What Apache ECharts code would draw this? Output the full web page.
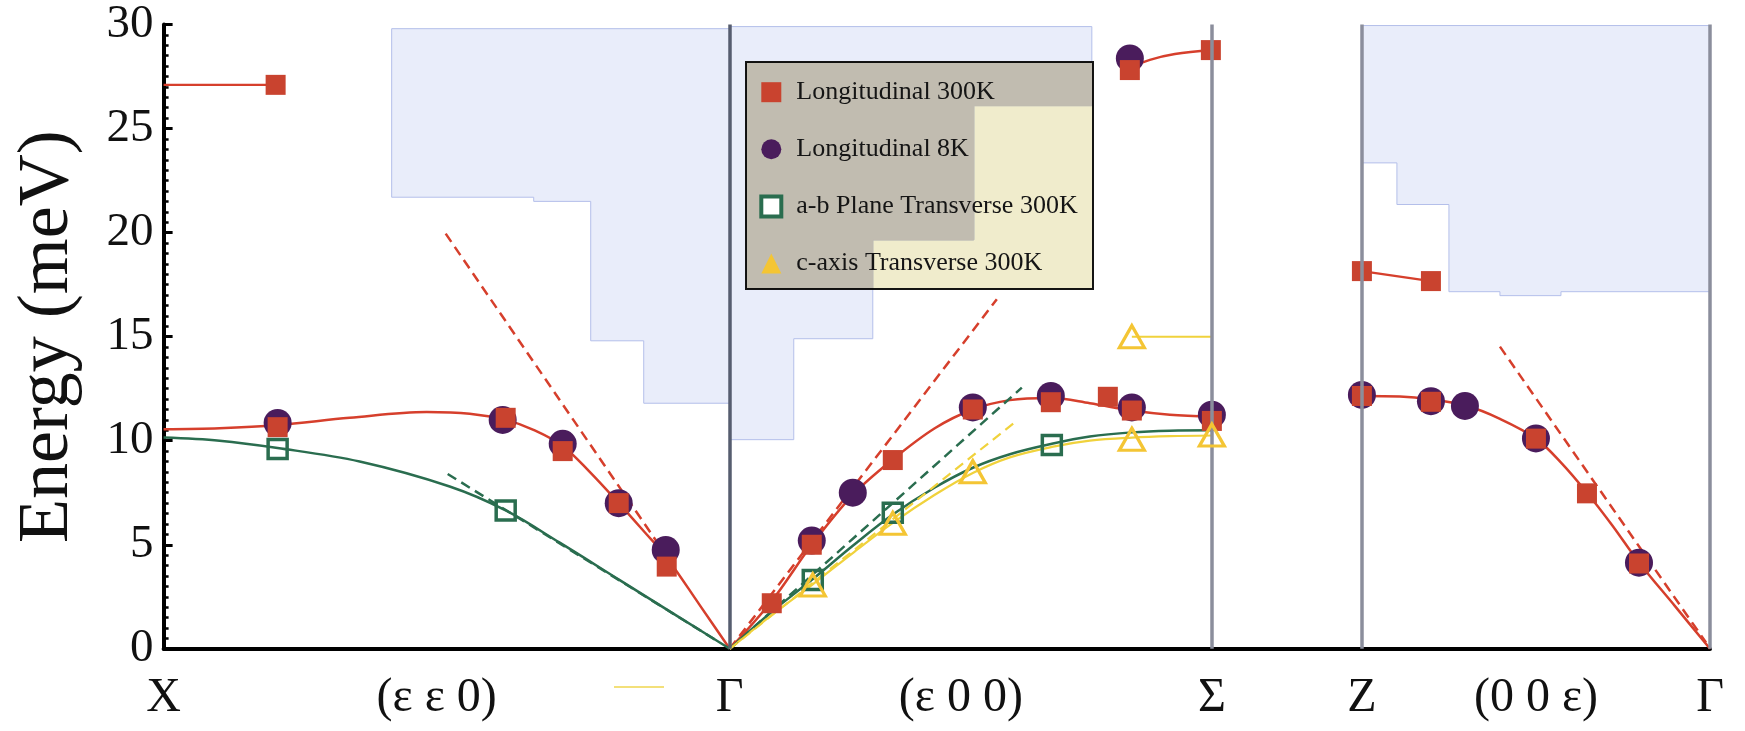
<!DOCTYPE html>
<html>
<head>
<meta charset="utf-8">
<script src="https://cdn.jsdelivr.net/npm/echarts@6/dist/echarts.min.js"></script>
<style>
  html, body { margin: 0; padding: 0; background: #fff; }
  #chart { width: 1745px; height: 731px; }
</style>
</head>
<body>
<div id="chart"></div>
<script>
// path coordinate along the dispersion path (X -> Γ -> Σ | Z -> Γ), energy in meV
var xTicks = [0, 273, 566, 797, 1048, 1198, 1372, 1546];
var xTickLabels = ['X', '(ε ε 0)', 'Γ', '(ε 0 0)', 'Σ', 'Z', '(0 0 ε)', 'Γ'];
var symmetryPoints = [566, 1048, 1198, 1546];

// measured points
var long300K = [
  [112, 27.1], [114, 10.65], [342, 11.1], [399, 9.5], [455, 7.0], [503, 3.95],
  [608, 2.19], [648, 5.0], [729, 9.07], [809, 11.5], [887, 11.85], [944, 12.11],
  [968, 11.45], [1048, 10.95], [966, 27.81], [1047, 28.77],
  [1198, 18.15], [1267, 17.67], [1198, 12.15], [1267, 11.87], [1372, 10.1],
  [1423, 7.47], [1475, 4.1]
];
var long8K = [
  [114, 10.85], [339, 11.0], [399, 9.85], [455, 7.0], [502, 4.75],
  [648, 5.2], [689, 7.5], [809, 11.6], [887, 12.15], [968, 11.6], [1048, 11.25], [966, 28.37],
  [1198, 12.2], [1267, 11.9], [1301, 11.67], [1372, 10.11], [1475, 4.14]
];
var abTrans300K = [[114, 9.6], [342, 6.65], [649, 3.31], [729, 6.54], [888, 9.79]];
var cTrans300K = [[649, 3.07], [729, 6.03], [809, 8.51], [968, 10.07], [1048, 10.27], [968, 15.0]];

// fitted curves
var redLeftTop = [[0, 27.1], [112, 27.1]];
var redLeft = [[0, 10.55], [56, 10.6], [114, 10.75], [186, 11.1], [263, 11.38], [306, 11.3], [342, 11.0],
  [371, 10.5], [399, 9.75], [426, 8.5], [455, 7.0], [481, 5.6], [502, 4.45], [536, 2.1], [566, 0]];
var greenLeft = [[0, 10.15], [56, 10.0], [114, 9.65], [196, 9.0], [286, 7.8], [342, 6.65], [396, 5.1],
  [456, 3.3], [516, 1.5], [566, 0]];
var redMid = [[566, 0], [608, 2.3], [648, 5.0], [689, 7.4], [729, 9.1], [771, 10.6], [809, 11.5],
  [846, 11.95], [887, 12.05], [926, 11.8], [968, 11.45], [1006, 11.25], [1048, 11.15]];
var greenMid = [[566, 0], [606, 1.7], [649, 3.35], [689, 4.95], [729, 6.45], [771, 7.75], [809, 8.7],
  [846, 9.35], [888, 9.85], [926, 10.2], [968, 10.4], [1006, 10.48], [1048, 10.5]];
var yellowMid = [[566, 0], [606, 1.55], [649, 3.1], [689, 4.6], [729, 6.05], [771, 7.4], [809, 8.45],
  [846, 9.2], [888, 9.7], [926, 10.0], [968, 10.15], [1006, 10.22], [1048, 10.25]];
var redMidTop = [[968, 27.95], [986, 28.3], [1011, 28.58], [1048, 28.77]];
var yellowTop = [[968, 15.0], [1048, 15.0]];
var redRightTop = [[1198, 18.15], [1267, 17.67]];
var redRight = [[1198, 12.15], [1236, 12.12], [1267, 11.98], [1301, 11.7], [1336, 11.05], [1372, 10.1],
  [1398, 8.9], [1423, 7.5], [1448, 5.95], [1475, 4.15], [1511, 2.05], [1546, 0]];

// sound velocity slopes (dashed)
var redDashLeft = [[282, 19.95], [498, 4.8]];
var greenDashLeft = [[284, 8.4], [551, 0.45]];
var redDashMid = [[566, 0], [833, 16.8]];
var greenDashMid = [[566, 0], [858, 12.55]];
var yellowDashMid = [[566, 0], [853, 10.96]];
var redDashRight = [[1336, 14.52], [1542, 0.3]];

// shaded continuum regions
var shadeLeft = [[228, 29.8], [566, 29.8], [566, 11.8], [480, 11.8], [480, 14.8], [427, 14.8],
  [427, 21.5], [370, 21.5], [370, 21.7], [228, 21.7]];
var shadeMid = [[566, 29.9], [928, 29.9], [928, 26.1], [810, 26.1], [810, 19.65], [709, 19.65],
  [709, 14.9], [630, 14.9], [630, 10.05], [566, 10.05]];
var shadeRight = [[1198, 29.95], [1546, 29.95], [1546, 17.16], [1397, 17.16], [1397, 16.97], [1336, 16.97],
  [1336, 17.16], [1285, 17.16], [1285, 21.35], [1233, 21.35], [1233, 23.35], [1198, 23.35]];

var RED = '#d63f2c';
var RED_SQ = '#c9432f';
var PURPLE = '#4a1c5c';
var GREEN = '#2a6d4f';
var YELLOW = '#f4c534';
var YELLOW_LINE = '#f0d23c';
var FONT = "'Liberation Serif', 'DejaVu Serif', serif";
var legendBox = { x: 746, y: 62, width: 347, height: 227 };

var myChart = echarts.init(document.getElementById('chart'));

function shade(points) {
  return {
    type: 'custom',
    silent: true,
    z: 1,
    data: [points[0]],
    renderItem: function (params, api) {
      var pts = points.map(function (p) { return api.coord(p); });
      return {
        type: 'group',
        children: [{
          type: 'polygon',
          shape: { points: pts },
          style: { fill: '#e9edfa', stroke: '#b4bfea', lineWidth: 1 }
        }, {
          // darker under the legend box, where the legend tint makes it grey
          type: 'polygon',
          shape: { points: pts },
          clipPath: { type: 'rect', shape: legendBox },
          style: { fill: '#cdcbdc', stroke: '#cdcbdc', lineWidth: 1 }
        }]
      };
    }
  };
}

function curve(data, color, width, dashed) {
  return {
    type: 'line',
    data: data,
    symbol: 'none',
    smooth: dashed ? false : 0.35,
    silent: true,
    z: 2,
    lineStyle: { color: color, width: width, type: dashed ? [10, 6] : 'solid' }
  };
}

var series = [
  shade(shadeLeft), shade(shadeMid), shade(shadeRight),
  {
    type: 'line',
    data: [],
    silent: true,
    z: 2,
    markLine: {
      silent: true,
      symbol: ['none', 'none'],
      label: { show: false },
      animation: false,
      data: symmetryPoints.map(function (x, i) {
        return { xAxis: x, lineStyle: { color: i === 0 ? '#565d6f' : '#8b8e9c', width: 3.5, type: 'solid' } };
      })
    }
  },
  curve(redLeftTop, RED, 2.2), curve(redLeft, RED, 2.5), curve(greenLeft, GREEN, 2.5),
  curve(redMid, RED, 2.5), curve(greenMid, GREEN, 2.5), curve(yellowMid, YELLOW_LINE, 2.2),
  curve(redMidTop, RED, 2.5), curve(yellowTop, YELLOW_LINE, 2),
  curve(redRightTop, RED, 2.2), curve(redRight, RED, 2.5),
  curve(redDashLeft, RED, 2.5, true), curve(greenDashLeft, GREEN, 2.5, true),
  curve(redDashMid, RED, 2.5, true), curve(greenDashMid, GREEN, 2.5, true),
  curve(yellowDashMid, YELLOW_LINE, 2.2, true), curve(redDashRight, RED, 2.5, true),
  {
    name: 'Longitudinal 8K', type: 'scatter', data: long8K, z: 3, silent: true,
    symbol: 'circle', symbolSize: 28, itemStyle: { color: PURPLE, opacity: 1 }
  },
  {
    name: 'Longitudinal 300K', type: 'scatter', data: long300K, z: 4, silent: true,
    symbol: 'rect', symbolSize: 20, itemStyle: { color: RED_SQ, opacity: 1 }
  },
  {
    name: 'a-b Plane Transverse 300K', type: 'scatter', data: abTrans300K, z: 5, silent: true,
    symbol: 'rect', symbolSize: 19,
    itemStyle: { color: 'rgba(255,255,255,0)', borderColor: GREEN, borderWidth: 3.5, opacity: 1 }
  },
  {
    name: 'c-axis Transverse 300K', type: 'scatter', data: cTrans300K, z: 5, silent: true,
    symbol: 'triangle', symbolSize: [25, 22],
    itemStyle: { color: 'rgba(255,255,255,0)', borderColor: YELLOW, borderWidth: 3.2, opacity: 1 }
  }
];

var option = {
  animation: false,
  backgroundColor: '#ffffff',
  grid: { left: 163.6, right: 35, top: 24.5, bottom: 82.2, containLabel: false, outerBoundsMode: 'none' },
  xAxis: {
    type: 'value',
    min: 0,
    max: 1546,
    splitLine: { show: false },
    axisTick: { show: false },
    axisLine: { show: true, onZero: false, lineStyle: { color: '#000', width: 4 } },
    axisLabel: {
      customValues: xTicks,
      margin: 26,
      color: '#111',
      fontFamily: FONT,
      fontSize: 48,
      formatter: function (v) {
        var best = 0;
        for (var i = 0; i < xTicks.length; i++) {
          if (Math.abs(xTicks[i] - v) < Math.abs(xTicks[best] - v)) best = i;
        }
        return xTickLabels[best];
      }
    }
  },
  yAxis: {
    type: 'value',
    min: 0,
    max: 30,
    interval: 5,
    name: 'Energy (meV)',
    nameLocation: 'middle',
    nameGap: 80,
    nameTextStyle: { color: '#111', fontFamily: FONT, fontSize: 72 },
    splitLine: { show: false },
    axisLine: { show: true, lineStyle: { color: '#000', width: 4 } },
    axisTick: { show: true, inside: true, length: 9, lineStyle: { color: '#000', width: 3 } },
    minorTick: { show: true, splitNumber: 10, length: 5, lineStyle: { color: '#000', width: 2.5 } },
    axisLabel: { margin: 10, color: '#111', fontFamily: FONT, fontSize: 47 }
  },
  legend: {
    orient: 'vertical',
    left: 759.3,
    top: 79.2,
    padding: 0,
    itemGap: 31.1,
    itemWidth: 20,
    itemHeight: 20,
    selectedMode: false,
    textStyle: { color: '#151515', fontFamily: FONT, fontSize: 26, lineHeight: 25, padding: [0, 0, 0, 10] },
    data: [
      { name: 'Longitudinal 300K' },
      { name: 'Longitudinal 8K' },
      { name: 'a-b Plane Transverse 300K', itemStyle: { color: '#ffffff', borderColor: GREEN, borderWidth: 4 } },
      { name: 'c-axis Transverse 300K', itemStyle: { color: YELLOW, borderColor: YELLOW, borderWidth: 0 } }
    ]
  },
  graphic: [
    {
      type: 'rect', z: 3, silent: true,
      shape: legendBox,
      style: { fill: 'rgb(240,236,204)', stroke: '#151515', lineWidth: 2, blend: 'multiply' }
    },
    {
      type: 'line', z: 3, silent: true,
      shape: { x1: 614, y1: 687, x2: 664, y2: 687 },
      style: { stroke: '#f3e07a', lineWidth: 2 }
    }
  ],
  series: series
};

myChart.setOption(option);
</script>
</body>
</html>
